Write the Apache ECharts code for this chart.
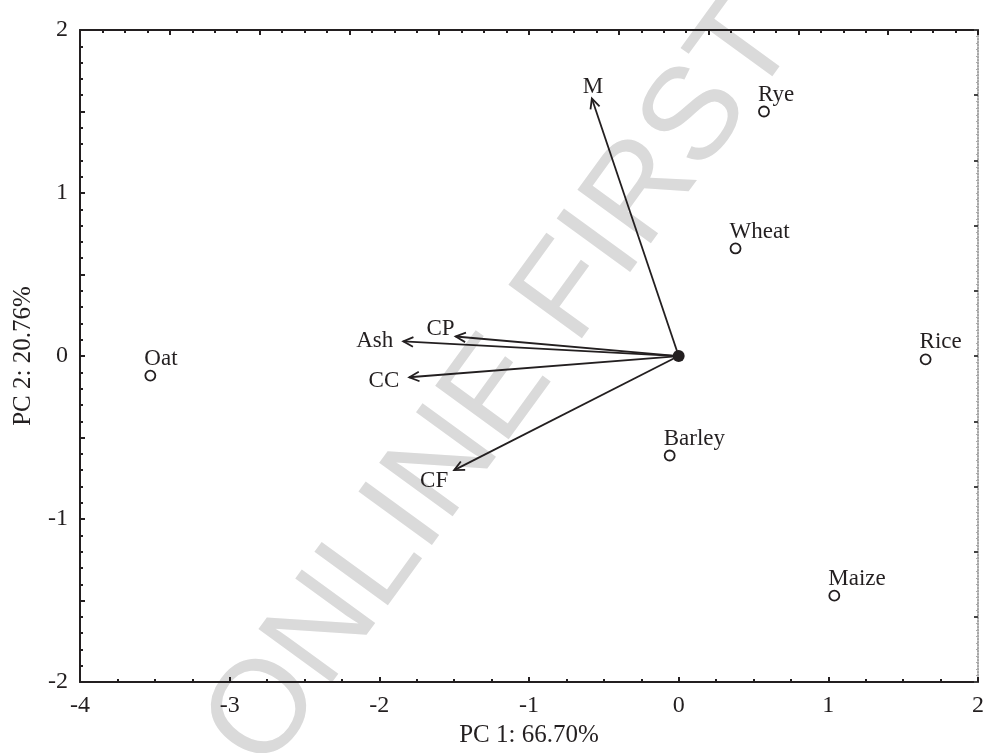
<!DOCTYPE html>
<html>
<head>
<meta charset="utf-8">
<script src="https://cdn.jsdelivr.net/npm/echarts@6/dist/echarts.min.js"></script>
<style>
html, body { margin: 0; padding: 0; background: #fff; }
#chart { width: 987px; height: 753px; }
</style>
</head>
<body>
<div id="chart"></div>
<script>
// sample scores
var samples = ['Oat', 'Rye', 'Wheat', 'Rice', 'Barley', 'Maize'];
var sampleX = [-3.53, 0.57, 0.38, 1.65, -0.06, 1.04];
var sampleY = [-0.12, 1.50, 0.66, -0.02, -0.61, -1.47];

// variable loadings (arrows from origin)
var variables = ['M', 'CP', 'Ash', 'CC', 'CF'];
var loadX = [-0.58, -1.49, -1.84, -1.80, -1.50];
var loadY = [1.58, 0.12, 0.09, -0.13, -0.70];

var origin = [0, 0];
var xRange = [-4, 2];
var yRange = [-2, 2];

var ink = '#231f20';
var serif = '"Liberation Serif", "Times New Roman", serif';

// where each arrow label sits relative to the arrow tip
var labelPlace = {
  M:   [1, -12, 'center'],
  CP:  [-1, -8, 'right'],
  Ash: [-10, 0, 'right'],
  CC:  [-10, 4, 'right'],
  CF:  [-6, 11, 'right']
};

var dom = document.getElementById('chart');
var chart = echarts.init(dom);

var scoreData = samples.map(function (s, i) { return [sampleX[i], sampleY[i], s]; });
var loadData = variables.map(function (v, i) { return [loadX[i], loadY[i], v]; });

function renderArrow(params, api) {
  var o = api.coord(origin);
  var t = api.coord([api.value(0), api.value(1)]);
  var ang = Math.atan2(t[1] - o[1], t[0] - o[0]);
  var h = 11, spread = Math.PI / 7;
  var p1 = [t[0] - h * Math.cos(ang - spread), t[1] - h * Math.sin(ang - spread)];
  var p2 = [t[0] - h * Math.cos(ang + spread), t[1] - h * Math.sin(ang + spread)];
  var name = variables[params.dataIndex];
  var lp = labelPlace[name];
  return {
    type: 'group',
    children: [
      { type: 'line', shape: { x1: o[0], y1: o[1], x2: t[0], y2: t[1] },
        style: { stroke: ink, lineWidth: 1.8 } },
      { type: 'polyline', shape: { points: [p1, t, p2] },
        style: { stroke: ink, fill: null, lineWidth: 1.8 } },
      { type: 'text', x: t[0] + lp[0], y: t[1] + lp[1],
        style: { text: name, align: lp[2], verticalAlign: 'middle',
                 fontSize: 23, fontFamily: serif, fill: ink } }
    ]
  };
}

var option = {
  animation: false,
  backgroundColor: '#fff',
  graphic: [{
    type: 'text',
    x: 503, y: 385,
    rotation: 54 * Math.PI / 180,
    silent: true,
    z: -10,
    style: {
      text: 'ONLINE FIRST',
      fontSize: 132,
      fontFamily: '"Liberation Sans", Arial, sans-serif',
      fill: '#dadada',
      align: 'center',
      verticalAlign: 'middle'
    }
  }],
  grid: { left: 80, right: 1, top: 30, bottom: 67 },
  xAxis: [{
    type: 'value',
    min: xRange[0], max: xRange[1], interval: 1,
    name: 'PC 1: 66.70%',
    nameLocation: 'middle',
    nameGap: 40,
    nameTextStyle: { fontSize: 25, fontFamily: serif, color: ink },
    axisLine: { onZero: false, lineStyle: { color: ink, width: 2 } },
    axisTick: { inside: true, length: 5, lineStyle: { color: ink, width: 2 } },
    minorTick: { show: true, splitNumber: 4, length: 3, lineStyle: { color: ink, width: 2 } },
    axisLabel: { fontSize: 24, fontFamily: serif, color: ink, margin: 12 },
    splitLine: { show: false }
  }, {
    type: 'value',
    position: 'top',
    min: 0, max: 10, interval: 1,
    axisLine: { onZero: false, lineStyle: { color: ink, width: 2 } },
    axisTick: { inside: true, length: 5, lineStyle: { color: ink, width: 2 } },
    minorTick: { show: true, splitNumber: 4, length: 3, lineStyle: { color: ink, width: 2 } },
    axisLabel: { show: false },
    splitLine: { show: false }
  }],
  yAxis: [{
    type: 'value',
    min: yRange[0], max: yRange[1], interval: 0.5,
    name: 'PC 2: 20.76%',
    nameLocation: 'middle',
    nameGap: 44,
    nameTextStyle: { fontSize: 25, fontFamily: serif, color: ink },
    axisLine: { onZero: false, lineStyle: { color: ink, width: 2 } },
    axisTick: { inside: true, length: 5, lineStyle: { color: ink, width: 2 } },
    minorTick: { show: true, splitNumber: 5, length: 3, lineStyle: { color: ink, width: 2 } },
    axisLabel: {
      fontSize: 24, fontFamily: serif, color: ink, margin: 12,
      formatter: function (v) { return Number.isInteger(v) ? String(v) : ''; }
    },
    splitLine: { show: false }
  }, {
    type: 'value',
    position: 'right',
    min: 0, max: 10, interval: 1,
    axisLine: { onZero: false, lineStyle: { color: '#888', width: 1.5, type: 'dotted' } },
    axisTick: { inside: true, length: 4, lineStyle: { color: '#444', width: 2 } },
    minorTick: { show: true, splitNumber: 10, length: 2, lineStyle: { color: '#aaa', width: 1 } },
    axisLabel: { show: false },
    splitLine: { show: false }
  }],
  series: [{
    name: 'loadings',
    type: 'custom',
    xAxisIndex: 0, yAxisIndex: 0,
    renderItem: renderArrow,
    data: loadData,
    z: 3
  }, {
    name: 'origin',
    type: 'scatter',
    xAxisIndex: 0, yAxisIndex: 0,
    symbol: 'circle',
    symbolSize: 12,
    itemStyle: { color: ink, opacity: 1 },
    data: [origin],
    z: 4
  }, {
    name: 'samples',
    type: 'scatter',
    xAxisIndex: 0, yAxisIndex: 0,
    symbol: 'circle',
    symbolSize: 10,
    itemStyle: { color: '#fff', borderColor: ink, borderWidth: 1.8, opacity: 1 },
    label: {
      show: true,
      position: 'top',
      distance: 11,
      align: 'left',
      verticalAlign: 'middle',
      offset: [-6, 0],
      fontSize: 23,
      fontFamily: serif,
      color: ink,
      formatter: function (p) { return p.data[2]; }
    },
    data: scoreData,
    z: 4
  }]
};

chart.setOption(option);
</script>
</body>
</html>
